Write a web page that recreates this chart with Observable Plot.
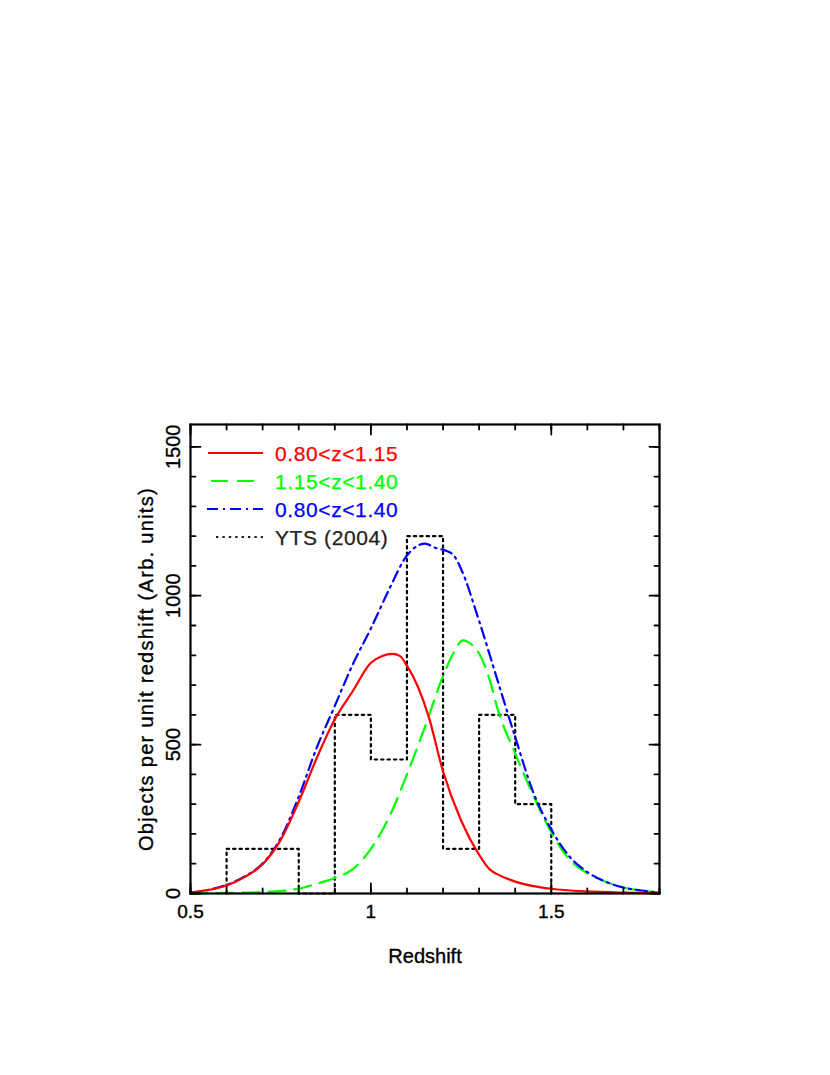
<!DOCTYPE html>
<html>
<head>
<meta charset="utf-8">
<script src="https://cdn.jsdelivr.net/npm/d3@7"></script>
<script src="https://cdn.jsdelivr.net/npm/@observablehq/plot@0.6"></script>
<style>
  html, body { margin: 0; padding: 0; background: #fff; }
  #chart svg { display: block; }
</style>
</head>
<body>
<div id="chart"></div>
<script>
// ---- data ----
const redZ   = [0.50,0.55,0.60,0.65,0.70,0.75,0.80,0.85,0.90,0.95,1.00,1.03,1.06,1.08,1.10,1.13,1.16,1.20,1.25,1.30,1.33,1.35,1.40,1.45,1.50,1.60,1.70,1.80];
const redN   = [3,12,27,55,98,180,308,455,585,680,775,797,805,798,765,695,595,410,245,130,80,65,40,25,16,7,3,1];

const greenZ = [0.50,0.60,0.70,0.80,0.85,0.90,0.95,1.00,1.05,1.10,1.15,1.20,1.23,1.255,1.28,1.30,1.33,1.35,1.40,1.45,1.50,1.55,1.60,1.65,1.70,1.75,1.80];
const greenN = [0,2,5,16,33,52,82,150,255,400,560,730,810,850,835,806,715,625,470,330,205,115,68,40,20,10,4];

const blueZ  = [0.50,0.55,0.60,0.65,0.70,0.75,0.80,0.85,0.90,0.95,1.00,1.05,1.10,1.13,1.15,1.18,1.21,1.23,1.25,1.30,1.35,1.40,1.45,1.50,1.55,1.60,1.65,1.70,1.75,1.80];
const blueN  = [3,12,29,57,101,186,325,490,630,770,890,1020,1135,1168,1175,1160,1150,1135,1090,915,720,525,340,215,125,72,40,20,10,3];

// YTS (2004) histogram: bin edges and heights
const histEdges  = [0.6,0.7,0.8,0.9,1.0,1.1,1.2,1.3,1.4,1.5];
const histCounts = [150,150,0,600,450,1200,150,600,300];

const legendLabels = ["0.80<z<1.15", "1.15<z<1.40", "0.80<z<1.40", "YTS (2004)"];
const xTickLabels = ["0.5", "1", "1.5"];
const xMajor = [0.5, 1.0, 1.5];
const yMajor = [0, 500, 1000, 1500];
const yTickLabels = ["0", "500", "1000", "1500"];
const xMinor = d3.range(5, 19).map(d => d / 10);
const yMinor = d3.range(0, 16).map(d => d * 100);
const xTitle = "Redshift";
const yTitle = "Objects per unit redshift (Arb. units)";

// ---- build tables ----
const zip = (Z, N) => Z.map((z, i) => ({z, n: N[i]}));
const red = zip(redZ, redN);
const green = zip(greenZ, greenN);
const blue = zip(blueZ, blueN);
const hist = [{z: histEdges[0], n: 0}]
  .concat(histCounts.map((c, i) => ({z: histEdges[i], n: c})))
  .concat([{z: histEdges[histEdges.length - 1], n: 0}]);

const FONT = "'Liberation Sans', Arial, Helvetica, sans-serif";
const DASH_GREEN = "17,9";
const DASH_BLUE = "11,5,2,5";
const DOTS = "2.4,4";
const tickShape = {draw(ctx, l) { ctx.moveTo(0, 0); ctx.lineTo(0, -l); }};
const ticks = (data, accessor, anchor, rotate, length) =>
  Plot.vector(data, {[accessor]: d => d, frameAnchor: anchor, rotate, length, anchor: "start",
                     shape: tickShape, stroke: "black", strokeWidth: 1.8});
const textStyle = {fill: "black", stroke: "black", strokeWidth: 0.35};

const chart = Plot.plot({
  width: 830,
  height: 1075,
  marginTop: 424,
  marginBottom: 182,
  marginLeft: 190,
  marginRight: 171,
  style: {fontFamily: FONT, background: "white", overflow: "visible"},
  x: {domain: [0.5, 1.8], axis: null},
  y: {domain: [0, 1575], axis: null},
  marks: [
    Plot.line(hist, {x: "z", y: "n", curve: "step-after", stroke: "black", strokeWidth: 2.2,
                     strokeDasharray: DOTS}),
    Plot.line(green, {x: "z", y: "n", curve: "monotone-x", stroke: "#00ff00", strokeWidth: 2.2,
                      strokeDasharray: DASH_GREEN}),
    Plot.line(blue, {x: "z", y: "n", curve: "monotone-x", stroke: "#0000ff", strokeWidth: 2.2,
                     strokeDasharray: DASH_BLUE}),
    Plot.line(red, {x: "z", y: "n", curve: "monotone-x", stroke: "#ff0000", strokeWidth: 2.2}),
    // inward ticks
    ticks(xMinor, "x", "bottom", 0, 5),
    ticks(xMajor, "x", "bottom", 0, 10),
    ticks(xMinor, "x", "top", 180, 5),
    ticks(xMajor, "x", "top", 180, 10),
    ticks(yMinor, "y", "left", 90, 5),
    ticks(yMajor, "y", "left", 90, 10),
    ticks(yMinor, "y", "right", -90, 5),
    ticks(yMajor, "y", "right", -90, 10),
    Plot.frame({stroke: "black", strokeWidth: 2.2}),
    // tick labels
    Plot.text(xMajor, {x: d => d, text: (d, i) => xTickLabels[i], frameAnchor: "bottom",
                       dy: 11, lineAnchor: "top", fontSize: 19, ...textStyle}),
    Plot.text(yMajor, {y: d => d, text: (d, i) => yTickLabels[i], frameAnchor: "left",
                       dx: -11, rotate: -90, textAnchor: "middle", lineAnchor: "bottom",
                       fontSize: 20, ...textStyle}),
    // axis titles
    Plot.text([xTitle], {text: d => d, frameAnchor: "bottom", dy: 55, lineAnchor: "top",
                         fontSize: 20, ...textStyle}),
    Plot.text([yTitle], {text: d => d, frameAnchor: "left", dx: -38, dy: 10, rotate: -90,
                         textAnchor: "middle", lineAnchor: "bottom", fontSize: 20,
                         ...textStyle})
  ]
});

// letter spacing for the y title to mimic the wider original font
d3.select(chart).selectAll("text").filter(function() { return this.textContent === yTitle; })
  .style("letter-spacing", "1.3px");

// ---- legend (inside the frame, top-left) ----
const legendColors = ["#ff0000", "#00ff00", "#0000ff", "#222222"];
const legendDash = [null, DASH_GREEN, DASH_BLUE, DOTS];
const legendX0 = [208, 211, 207, 216];
const svg = d3.select(chart);
const lg = svg.append("g").attr("font-family", FONT).attr("font-size", 21)
  .attr("text-anchor", "start");
legendLabels.forEach((lab, i) => {
  const yy = 453 + i * 28;
  lg.append("line").attr("x1", legendX0[i]).attr("x2", 263).attr("y1", yy).attr("y2", yy)
    .attr("stroke", legendColors[i]).attr("stroke-width", 2.2)
    .attr("stroke-dasharray", legendDash[i]);
  lg.append("text").attr("x", 275).attr("y", yy).attr("dy", "0.36em")
    .attr("fill", legendColors[i]).attr("stroke", legendColors[i]).attr("stroke-width", 0.25)
    .style("letter-spacing", "0.6px").text(lab);
});

document.getElementById("chart").appendChild(chart);
</script>
</body>
</html>
